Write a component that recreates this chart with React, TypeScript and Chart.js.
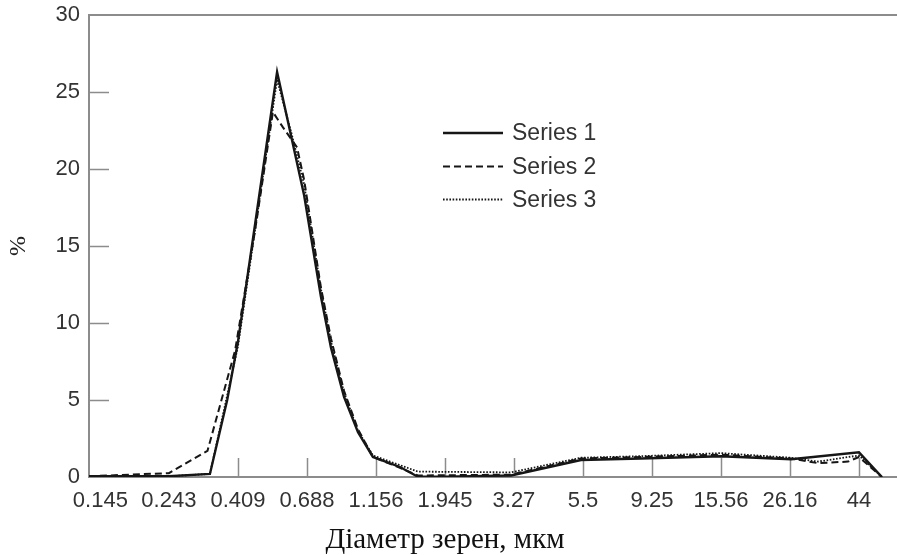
import React, { useEffect, useRef } from 'react';
import { Chart, registerables } from 'chart.js';

Chart.register(...registerables);

// ---- data ----
const xTickValues = [0.145, 0.243, 0.409, 0.688, 1.156, 1.945, 3.27, 5.5, 9.25, 15.56, 26.16, 44];
const xTickLabels = ['0.145', '0.243', '0.409', '0.688', '1.156', '1.945', '3.27', '5.5', '9.25', '15.56', '26.16', '44'];
const xMarkedTicks = [0.409, 0.688, 1.156, 1.945, 3.27, 5.5, 9.25, 15.56, 26.16, 44];
const yTickValues = [0, 5, 10, 15, 20, 25, 30];
const yMarkedTicks = [5, 10, 15, 20, 25];

const seriesNames = ['Series 1', 'Series 2', 'Series 3'];

const series1X = [0.133, 0.243, 0.331, 0.377, 0.409, 0.465, 0.549, 0.614, 0.673, 0.764, 0.824, 0.909, 1.01, 1.13, 1.385, 1.586, 1.945, 3.2, 5.42, 8.5, 15.56, 26.4, 44, 52.3];
const series1Y = [0.05, 0.05, 0.2, 5.0, 8.8, 16.4, 26.3, 21.9, 18.3, 11.7, 8.4, 5.2, 2.9, 1.3, 0.65, 0.02, 0.02, 0.1, 1.1, 1.2, 1.35, 1.15, 1.6, 0];

const series2X = [0.133, 0.243, 0.325, 0.4, 0.465, 0.532, 0.574, 0.638, 0.673, 0.764, 0.824, 0.909, 1.01, 1.13, 1.385, 1.586, 3.2, 5.42, 8.5, 15.56, 26.4, 32.3, 40.5, 44, 52.3];
const series2Y = [0.05, 0.25, 1.7, 8.2, 16.0, 23.7, 22.7, 21.4, 19.3, 12.3, 9.0, 5.6, 3.1, 1.3, 0.6, 0.1, 0.15, 1.2, 1.3, 1.45, 1.2, 0.9, 1.0, 1.3, 0];

const series3X = [0.133, 0.243, 0.331, 0.409, 0.549, 0.614, 0.673, 0.764, 0.824, 0.909, 1.01, 1.13, 1.586, 3.2, 5.42, 8.5, 15.56, 26.4, 32.3, 44, 52.3];
const series3Y = [0.05, 0.05, 0.2, 8.5, 25.8, 22.2, 19.0, 12.2, 8.8, 5.5, 3.0, 1.4, 0.35, 0.3, 1.25, 1.35, 1.55, 1.25, 1.0, 1.4, 0];

const xTitle = 'Діаметр зерен, мкм';
const yTitle = '%';

const LINE = '#161616';
const AXIS = '#8c8c8c';
const TEXT = '#333333';
const SANS = '"Liberation Sans", Arial, Helvetica, sans-serif';
const SERIF = '"Liberation Serif", "Times New Roman", serif';

const dashes: number[][] = [[], [7, 4], [1.6, 1.6]];
const widths = [2.4, 2, 1.8];

const toPoints = (xs: number[], ys: number[]) => xs.map((x, i) => ({ x, y: ys[i] }));

const framePlugin = {
  id: 'frame',
  beforeDatasetsDraw(chart: any) {
    const { ctx, chartArea, scales } = chart;
    const { left, right, top, bottom } = chartArea;
    ctx.save();
    ctx.strokeStyle = AXIS;
    ctx.lineWidth = 2;
    ctx.beginPath();
    ctx.moveTo(right, top);
    ctx.lineTo(left, top);
    ctx.lineTo(left, bottom);
    ctx.lineTo(right, bottom);
    ctx.stroke();
    ctx.lineWidth = 1.5;
    ctx.beginPath();
    xMarkedTicks.forEach((v) => {
      const px = Math.round(scales.x.getPixelForValue(v)) + 0.5;
      ctx.moveTo(px, bottom);
      ctx.lineTo(px, bottom - 19);
    });
    yMarkedTicks.forEach((v) => {
      const py = Math.round(scales.y.getPixelForValue(v)) + 0.5;
      ctx.moveTo(left, py);
      ctx.lineTo(left + 20, py);
    });
    ctx.stroke();
    ctx.restore();
  },
  afterDraw(chart: any) {
    const { ctx } = chart;
    ctx.save();
    // x axis title
    ctx.font = `29px ${SERIF}`;
    ctx.fillStyle = '#111';
    ctx.textAlign = 'center';
    ctx.textBaseline = 'alphabetic';
    ctx.fillText(xTitle, 445, 548);
    // legend
    const ys = [133, 166.5, 199.5];
    ctx.font = `23px ${SANS}`;
    ctx.textAlign = 'left';
    ctx.textBaseline = 'middle';
    seriesNames.forEach((name, i) => {
      ctx.strokeStyle = LINE;
      ctx.lineWidth = widths[i];
      ctx.setLineDash(dashes[i]);
      ctx.beginPath();
      ctx.moveTo(443, ys[i]);
      ctx.lineTo(503, ys[i]);
      ctx.stroke();
      ctx.setLineDash([]);
      ctx.fillStyle = TEXT;
      ctx.fillText(name, 512, ys[i] + 1);
    });
    ctx.restore();
  },
};

export default function App() {
  const canvasRef = useRef<HTMLCanvasElement | null>(null);

  useEffect(() => {
    const canvas = canvasRef.current;
    if (!canvas) return;
    const chart = new Chart(canvas, {
      type: 'line',
      data: {
        datasets: [
          { label: seriesNames[0], data: toPoints(series1X, series1Y) },
          { label: seriesNames[1], data: toPoints(series2X, series2Y) },
          { label: seriesNames[2], data: toPoints(series3X, series3Y) },
        ].map((d, i) => ({
          ...d,
          borderColor: LINE,
          borderWidth: widths[i],
          borderDash: dashes[i],
          pointRadius: 0,
          fill: false,
          tension: 0,
        })),
      },
      options: {
        animation: false,
        responsive: true,
        maintainAspectRatio: false,
        layout: { padding: { top: 15, right: 0, bottom: 0, left: 0 } },
        plugins: {
          legend: { display: false },
          tooltip: { enabled: false },
          title: { display: false },
        },
        scales: {
          x: {
            type: 'logarithmic',
            min: 0.1331,
            max: 58.6,
            afterBuildTicks: (s: any) => {
              s.ticks = xTickValues.map((v) => ({ value: v }));
            },
            afterFit: (s: any) => {
              s.height = 78;
              s.paddingLeft = 0;
              s.paddingRight = 0;
            },
            grid: { display: false, drawTicks: false },
            border: { display: false },
            ticks: {
              autoSkip: false,
              maxRotation: 0,
              minRotation: 0,
              padding: 11,
              color: TEXT,
              font: { family: SANS, size: 22 },
              callback: (_v: any, i: number) => xTickLabels[i],
            },
          },
          y: {
            type: 'linear',
            min: 0,
            max: 30,
            afterBuildTicks: (s: any) => {
              s.ticks = yTickValues.map((v) => ({ value: v }));
            },
            afterFit: (s: any) => {
              s.width = 89;
              s.paddingTop = 0;
              s.paddingBottom = 0;
            },
            grid: { display: false, drawTicks: false },
            border: { display: false },
            ticks: {
              padding: 9,
              color: TEXT,
              font: { family: SANS, size: 22 },
              callback: (v: any) => String(v),
            },
            title: {
              display: true,
              text: yTitle,
              color: '#222',
              font: { family: SERIF, size: 24 },
              padding: { top: 4, bottom: 0 },
            },
          },
        },
      } as any,
      plugins: [framePlugin],
    });
    return () => chart.destroy();
  }, []);

  return (
    <div style={{ position: 'fixed', left: 0, top: 0, width: 897, height: 555, background: '#fff' }}>
      <canvas ref={canvasRef} />
    </div>
  );
}
